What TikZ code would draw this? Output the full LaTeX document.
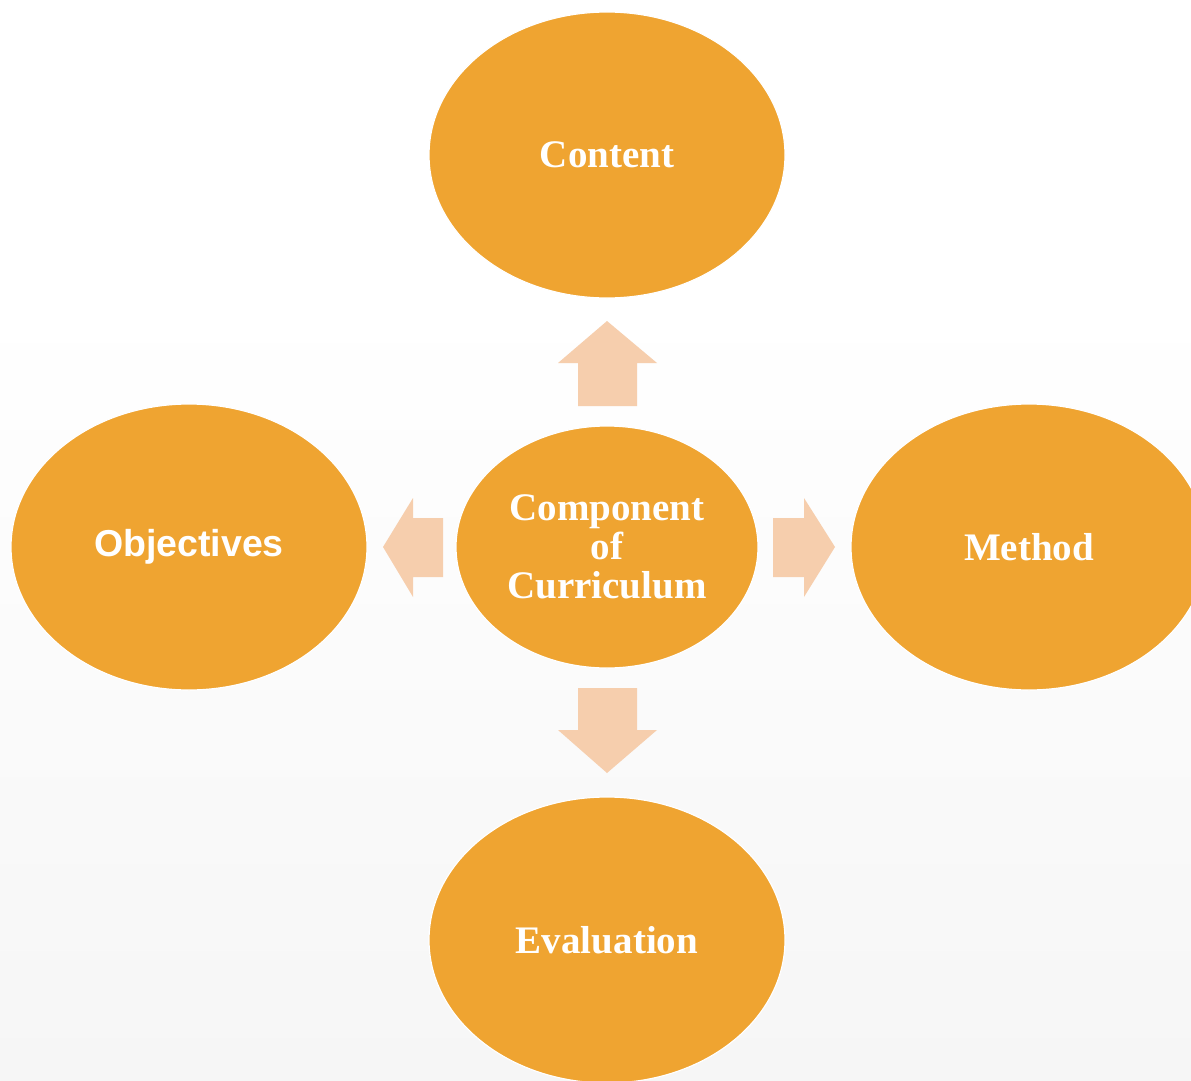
\documentclass[tikz,border=0pt]{standalone}
\usepackage{fontspec}
\setmainfont{Liberation Serif}
\newfontfamily\arialf{Liberation Sans}
\usetikzlibrary{shapes.geometric}
\definecolor{orangefill}{HTML}{EFA431}
\definecolor{arrowfill}{HTML}{F6CEAD}
\definecolor{bggray}{HTML}{F6F6F6}
\tikzset{
  bubble/.style={ellipse, fill=orangefill, draw=white, line width=1.2pt,
    inner sep=0pt, text=white, font=\bfseries\fontsize{39}{40}\selectfont, align=center},
  bigbubble/.style={bubble, minimum width=356pt, minimum height=286pt},
  blockarrow/.style={fill=arrowfill, draw=none}
}
\begin{document}
\begin{tikzpicture}[x=1pt,y=-1pt]
\useasboundingbox (0,0) rectangle (1191,1081);
\clip (0,0) rectangle (1191,1081);
\fill[white] (0,0) rectangle (1191,300);
\shade[top color=white, bottom color=bggray] (0,299) rectangle (1191,1081);

\node[bigbubble] (content) at (607,155) {Content};
\node[bigbubble, font=\arialf\bfseries\fontsize{37.5}{40}\selectfont] (objectives) at (189,547) {Objectives};
\node[bigbubble] (method) at (1029,547) {Method};
\node[bigbubble] (evaluation) at (607,940) {Evaluation};
\node[bubble, minimum width=302pt, minimum height=242pt] (center) at (607,547) {Component\\[-1pt]of\\[-1pt]Curriculum};

% up
\fill[blockarrow] (578,406) -- (578,363) -- (558,363) -- (607,321) -- (657,363) -- (637,363) -- (637,406) -- cycle;
% down
\fill[blockarrow] (578,688) -- (578,730) -- (558,730) -- (607,773) -- (657,730) -- (637,730) -- (637,688) -- cycle;
% left
\fill[blockarrow] (443,518) -- (413,518) -- (413,498) -- (383,547) -- (413,597) -- (413,577) -- (443,577) -- cycle;
% right
\fill[blockarrow] (773,518) -- (804,518) -- (804,498) -- (835,547) -- (804,597) -- (804,577) -- (773,577) -- cycle;
\end{tikzpicture}
\end{document}
